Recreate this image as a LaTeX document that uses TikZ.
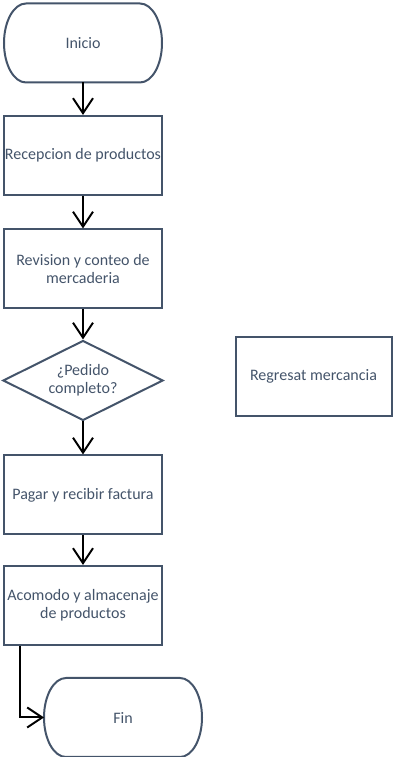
\documentclass[tikz,border=0pt]{standalone}
\usepackage{fontspec}
\setmainfont{Carlito}
\usepackage{tikz}
\usetikzlibrary{arrows.meta}
\usetikzlibrary{shapes.geometric}

\definecolor{slate}{HTML}{44546A}

\tikzset{
  stepbox/.style={draw=slate, line width=2pt, text=slate, align=center,
    minimum width=158pt, minimum height=79pt, inner sep=1pt,
    font=\fontsize{16}{18}\selectfont},
  termbox/.style={stepbox, draw=none, outer sep=0pt},
  askbox/.style={stepbox, shape=diamond, aspect=2, inner sep=0pt,
    minimum width=160pt, minimum height=80pt},
  flow/.style={draw=black, line width=2pt,
    -{Straight Barb[length=15pt,width=20pt,line width=2pt]}},
}

% terminal: name, position, text
\newcommand{\termnode}[3]{%
  \node[termbox] (#1) at (#2) {#3};
  \draw[draw=slate, line width=2pt]
    ([xshift=22pt]#1.north west) -- ([xshift=-22pt]#1.north east)
    arc[start angle=90, end angle=-90, x radius=22pt, y radius=39.5pt]
    -- ([xshift=22pt]#1.south west)
    arc[start angle=270, end angle=90, x radius=22pt, y radius=39.5pt]
    -- cycle;}

\begin{document}
\begin{tikzpicture}[x=1pt,y=1pt]
        \useasboundingbox (0,0) rectangle (393,757);
        \termnode{inicio}{83,714}{Inicio}
        \node[stepbox] (recepcion) at (83,601.5) {Recepcion de productos};
        \node[stepbox] (revision) at (83,488) {Revision y conteo de\\mercaderia};
        \node[askbox] (pedido) at (83,376.5) {¿Pedido\\completo?};
        \node[stepbox, minimum width=156pt] (regreso) at (313.5,380.5) {Regresat mercancia};
        \node[stepbox] (pagar) at (83,262) {Pagar y recibir factura};
        \node[stepbox] (acomodo) at (83,151.5) {Acomodo y almacenaje\\de productos};
        \termnode{fin}{123,39.5}{Fin}
        \draw[flow] (inicio) -- (recepcion);
        \draw[flow] (recepcion) -- (revision);
        \draw[flow] (revision) -- (pedido);
        \draw[flow] (pedido) -- (pagar);
        \draw[flow] (pagar) -- (acomodo);
        \draw[flow] ([xshift=17pt]acomodo.south west) |- (fin.west);
\end{tikzpicture}
\end{document}
